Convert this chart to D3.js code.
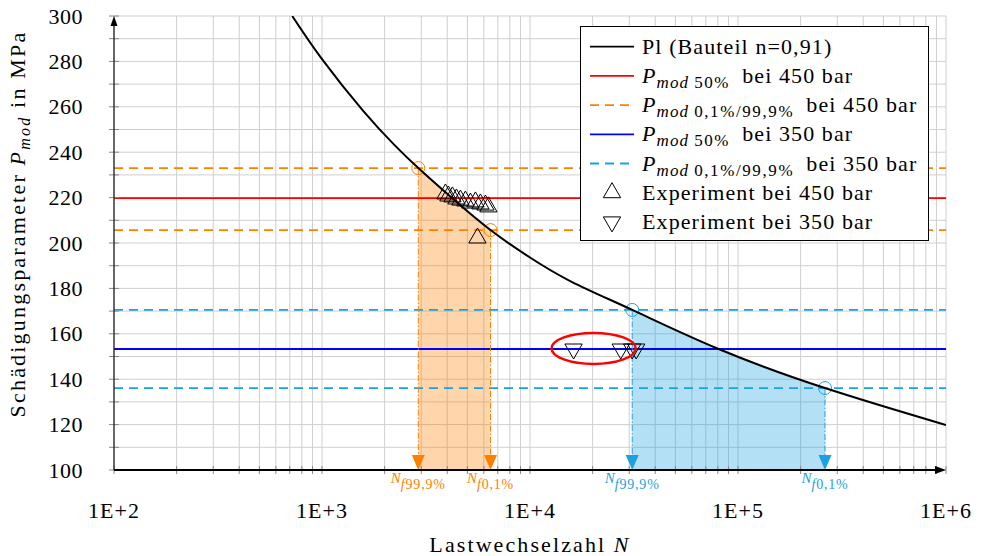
<!DOCTYPE html>
<html><head><meta charset="utf-8">
<script src="https://cdn.jsdelivr.net/npm/d3@7"></script>
<style>
body{margin:0;background:#fff;}
svg text{font-family:"Liberation Serif","DejaVu Serif",serif;fill:#000;}
</style></head><body>
<svg id="chart" width="983" height="556"></svg>
<script>
// ---- data ----
const curveN = [719, 1000, 1585, 2239, 2904, 4217, 6457, 10000, 15850, 31050, 80720, 261800, 1000000];
const curveP = [300, 281, 258, 243, 233.0, 219.8, 205.7, 193.6, 182.9, 170.5, 153.3, 136.1, 119.8];

const levels450 = [233.0, 219.8, 205.7];   // 0,1% / 50% / 99,9%
const levels350 = [170.5, 153.3, 136.1];
const nf450 = [2904, 6460];               // N_f99,9% , N_f0,1%
const nf350 = [31000, 262000];

const exp450N = [3921, 4053, 4236, 4430, 4630, 4892, 5171, 5467, 5776, 6107, 6313, 5590];
const exp450P = [221.6, 220.7, 220.3, 219.4, 218.9, 218.5, 217.6, 218.1, 217.2, 216.7, 215.9, 202.2];
const exp350N = [16200, 27300, 31000, 32400];
const exp350P = [153.3, 153.3, 153.3, 153.3];

const ellipseN = [12700, 32200];
const ellipseP = [146.7, 160.4];

const xTickVals = [1e2, 1e3, 1e4, 1e5, 1e6];
const xTickLabels = ["1E+2", "1E+3", "1E+4", "1E+5", "1E+6"];
const yTickVals = [100, 120, 140, 160, 180, 200, 220, 240, 260, 280, 300];
const nfLabels = ["f99,9%", "f0,1%"];

// ---- layout ----
const pL = 114, pR = 946, pT = 16, pB = 470;
const ORANGE = "#ff8000", CYAN = "#1ba1e2";
const svg = d3.select("#chart");
const x = d3.scaleLog().domain([1e2, 1e6]).range([pL, pR]);
const y = d3.scaleLinear().domain([100, 300]).range([pB, pT]);

const defs = svg.append("defs");
defs.append("clipPath").attr("id", "plotclip").append("rect")
  .attr("x", pL).attr("y", pT).attr("width", pR - pL).attr("height", pB - pT);

// grid
const gridN = [];
for (let e = 2; e <= 5; e++) for (let m = 1; m <= 9; m++) gridN.push(m * Math.pow(10, e));
gridN.push(1e6);
const gy = d3.range(100, 301, 10);
const grid = svg.append("g").attr("stroke", "#cfcfcf").attr("stroke-width", 1);
grid.selectAll("line.v").data(gridN).join("line").attr("class", "v")
  .attr("x1", d => x(d)).attr("x2", d => x(d)).attr("y1", pT).attr("y2", pB);
grid.selectAll("line.h").data(gy).join("line").attr("class", "h")
  .attr("x1", pL).attr("x2", pR).attr("y1", d => y(d)).attr("y2", d => y(d));

const pts = curveN.map((n, i) => [n, curveP[i]]);
const lineGen = d3.line().x(d => x(d[0])).y(d => y(d[1])).curve(d3.curveNatural);
const areaGen = d3.area().x(d => x(d[0])).y0(pB).y1(d => y(d[1])).curve(d3.curveNatural);

// filled scatter bands
[[nf450, ORANGE, "c450"], [nf350, CYAN, "c350"]].forEach(([nf, col, id]) => {
  defs.append("clipPath").attr("id", id).append("rect")
    .attr("x", x(nf[0])).attr("y", pT).attr("width", x(nf[1]) - x(nf[0])).attr("height", pB - pT);
  svg.append("path").attr("d", areaGen(pts)).attr("fill", col).attr("fill-opacity", 0.33)
    .attr("clip-path", `url(#${id})`);
});

// horizontal level lines
function levelLines(levels, dashCol, solidCol) {
  levels.forEach((v, i) => {
    svg.append("line").attr("x1", pL).attr("x2", pR).attr("y1", y(v)).attr("y2", y(v))
      .attr("stroke", i === 1 ? solidCol : dashCol).attr("stroke-width", 1.8)
      .attr("stroke-dasharray", i === 1 ? null : "9,6");
  });
}
levelLines(levels450, ORANGE, "#ff0000");
levelLines(levels350, CYAN, "#0000ff");

// vertical dash-dot lines, arrows, circles, labels
function nfMarks(nf, levels, col) {
  const lv = [levels[0], levels[2]];
  nf.forEach((n, i) => {
    const xx = x(n), yy = y(lv[i]);
    svg.append("line").attr("x1", xx).attr("x2", xx).attr("y1", yy).attr("y2", pB - 14)
      .attr("stroke", col).attr("stroke-width", 1).attr("stroke-dasharray", "6,2,1.5,2");
    svg.append("path").attr("d", `M${xx - 6.5},${pB - 15}L${xx + 6.5},${pB - 15}L${xx},${pB}Z`)
      .attr("fill", col);
    svg.append("circle").attr("cx", xx).attr("cy", yy).attr("r", 6.5)
      .attr("fill", "none").attr("stroke", col).attr("stroke-width", 1);
    const t = svg.append("text").attr("x", xx).attr("y", pB + 13).attr("text-anchor", "middle")
      .style("fill", col).attr("font-size", 15);
    t.append("tspan").attr("font-style", "italic").text("N");
    const sub = t.append("tspan").attr("dy", 6).attr("font-size", 14).attr("letter-spacing", 0.8);
    sub.append("tspan").attr("font-style", "italic").text(nfLabels[i][0]);
    sub.append("tspan").text(nfLabels[i].slice(1));
  });
}
nfMarks(nf450, levels450, ORANGE);
nfMarks(nf350, levels350, CYAN);

// curve
svg.append("path").attr("d", lineGen(pts)).attr("fill", "none").attr("stroke", "#000")
  .attr("stroke-width", 2).attr("clip-path", "url(#plotclip)");

// experiment markers
const tri = d3.symbol().type(d3.symbolTriangle).size(130);
svg.append("g").selectAll("path").data(exp450N.map((n, i) => [n, exp450P[i]])).join("path")
  .attr("d", tri).attr("transform", d => `translate(${x(d[0])},${y(d[1])})`)
  .attr("fill", "none").attr("stroke", "#000").attr("stroke-width", 1);
svg.append("g").selectAll("path").data(exp350N.map((n, i) => [n, exp350P[i]])).join("path")
  .attr("d", tri).attr("transform", d => `translate(${x(d[0])},${y(d[1])}) rotate(180)`)
  .attr("fill", "none").attr("stroke", "#000").attr("stroke-width", 1);

// highlight ellipse
svg.append("ellipse")
  .attr("cx", (x(ellipseN[0]) + x(ellipseN[1])) / 2).attr("cy", (y(ellipseP[0]) + y(ellipseP[1])) / 2)
  .attr("rx", (x(ellipseN[1]) - x(ellipseN[0])) / 2).attr("ry", (y(ellipseP[0]) - y(ellipseP[1])) / 2)
  .attr("fill", "none").attr("stroke", "#ff0000").attr("stroke-width", 2.5);

// ticks
const tk = svg.append("g").attr("stroke", "#888").attr("stroke-width", 1);
tk.selectAll("line.y").data(gy).join("line").attr("class", "y")
  .attr("x1", pL - 5).attr("x2", pL + 5).attr("y1", d => y(d)).attr("y2", d => y(d));
tk.selectAll("line.x").data(gridN).join("line").attr("class", "x")
  .attr("x1", d => x(d)).attr("x2", d => x(d)).attr("y1", pB - 4).attr("y2", pB + 4);

// axes
svg.append("line").attr("x1", pL).attr("x2", pL).attr("y1", pB).attr("y2", pT + 4)
  .attr("stroke", "#222").attr("stroke-width", 1.3);
svg.append("path").attr("d", `M${pL},${pT}L${pL - 3.5},${pT + 10}L${pL + 3.5},${pT + 10}Z`).attr("fill", "#000");
svg.append("line").attr("x1", pL).attr("x2", pR - 4).attr("y1", pB).attr("y2", pB)
  .attr("stroke", "#000").attr("stroke-width", 2);
svg.append("path").attr("d", `M${pR},${pB}L${pR - 11},${pB - 4}L${pR - 11},${pB + 4}Z`).attr("fill", "#000");

// tick labels
svg.append("g").selectAll("text").data(yTickVals).join("text")
  .attr("x", 83).attr("y", d => y(d) + 7.5).attr("text-anchor", "end").attr("font-size", 22)
  .attr("letter-spacing", 0.5)
  .text(d => d);
svg.append("g").selectAll("text").data(xTickVals).join("text")
  .attr("x", d => x(d)).attr("y", 518).attr("text-anchor", "middle").attr("font-size", 22)
  .attr("letter-spacing", 1)
  .text((d, i) => xTickLabels[i]);

// axis titles
const xt = svg.append("text").attr("x", 530).attr("y", 552).attr("text-anchor", "middle")
  .attr("font-size", 22).attr("letter-spacing", 2.1);
xt.append("tspan").text("Lastwechselzahl ");
xt.append("tspan").attr("font-style", "italic").text("N");

const yt = svg.append("text").attr("transform", "translate(25,224) rotate(-90)")
  .attr("text-anchor", "middle").attr("font-size", 22).attr("letter-spacing", 2.2);
yt.append("tspan").text("Schädigungsparameter ");
yt.append("tspan").attr("font-style", "italic").text("P");
yt.append("tspan").attr("font-style", "italic").attr("font-size", 16).attr("dy", 5).text("mod");
yt.append("tspan").attr("dy", -5).text(" in MPa");

// legend
const lg = svg.append("g");
lg.append("rect").attr("x", 580.5).attr("y", 26.5).attr("width", 348).attr("height", 214)
  .attr("fill", "#fff").attr("stroke", "#000").attr("stroke-width", 1);
const legendItems = [
  {type: "line", col: "#000", dash: null, main: "Pl (Bauteil n=0,91)"},
  {type: "line", col: "#ff0000", dash: null, sub: "50%", rest: "bei 450 bar"},
  {type: "line", col: ORANGE, dash: "9,6", sub: "0,1%/99,9%", rest: "bei 450 bar"},
  {type: "line", col: "#0000ff", dash: null, sub: "50%", rest: "bei 350 bar"},
  {type: "line", col: CYAN, dash: "9,6", sub: "0,1%/99,9%", rest: "bei 350 bar"},
  {type: "up", main: "Experiment bei 450 bar"},
  {type: "down", main: "Experiment bei 350 bar"}
];
legendItems.forEach((it, i) => {
  const cy = 46.7 + i * 29.2;
  if (it.type === "line") {
    lg.append("line").attr("x1", 590).attr("x2", 634).attr("y1", cy).attr("y2", cy)
      .attr("stroke", it.col).attr("stroke-width", 1.8).attr("stroke-dasharray", it.dash);
  } else {
    lg.append("path").attr("d", tri)
      .attr("transform", `translate(612,${cy})` + (it.type === "down" ? " rotate(180)" : ""))
      .attr("fill", "none").attr("stroke", "#000").attr("stroke-width", 1);
  }
  const t = lg.append("text").attr("x", 642).attr("y", cy + 7).attr("font-size", 22).attr("letter-spacing", 1.1);
  if (it.main) {
    t.text(it.main);
  } else {
    t.append("tspan").attr("font-style", "italic").text("P");
    t.append("tspan").attr("font-style", "italic").attr("font-size", 17).attr("dy", 5).text("mod");
    t.append("tspan").attr("font-size", 17).attr("letter-spacing", 1.6).text("\u2009" + it.sub);
    t.append("tspan").attr("dy", -5).text("\u2002" + it.rest);
  }
});
</script>
</body></html>
